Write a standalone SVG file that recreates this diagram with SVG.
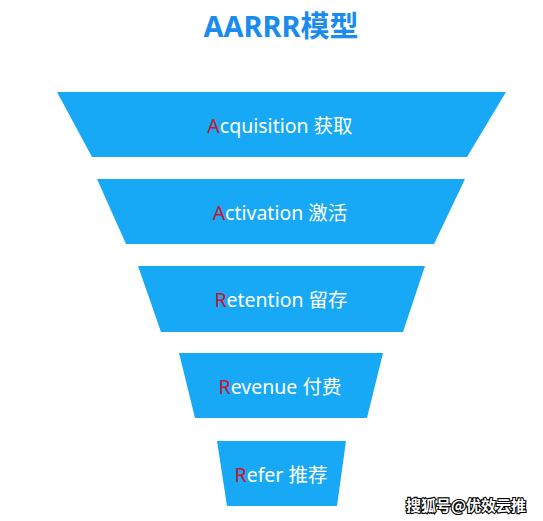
<svg xmlns="http://www.w3.org/2000/svg" width="543" height="521" viewBox="0 0 543 521">
<style>
.stage{fill:#17a9f6}
.lbl{font-family:"Noto Sans","Noto Sans CJK SC",sans-serif;font-size:19.5px;fill:#ffffff;text-anchor:middle}
.red{fill:#c8142c}
.title{font-family:"Noto Sans","Noto Sans CJK SC",sans-serif;font-size:29px;font-weight:bold;fill:#1a8cf0;text-anchor:middle}
.wm{font-family:"Noto Sans CJK SC",sans-serif;font-size:15px;font-weight:bold;fill:#ffffff;stroke:#000000;stroke-width:2.2;paint-order:stroke;text-anchor:middle}
</style>
<rect width="543" height="521" fill="#ffffff"/>
<text class="title" x="281" y="37">AARRR模型</text>
<g id="acquisition">
<polygon class="stage" points="57,92 506,92 467,157 92,157"/>
<text class="lbl" x="280" y="133"><tspan class="red">A</tspan>cquisition 获取</text>
</g>
<g id="activation">
<polygon class="stage" points="97,179 465,179 434,244 126,244"/>
<text class="lbl" x="280" y="220"><tspan class="red">A</tspan>ctivation 激活</text>
</g>
<g id="retention">
<polygon class="stage" points="138,266 425,266 403,332 161,332"/>
<text class="lbl" x="281" y="307"><tspan class="red">R</tspan>etention 留存</text>
</g>
<g id="revenue">
<polygon class="stage" points="179,353 383,353 367,418 195,418"/>
<text class="lbl" x="280" y="394"><tspan class="red">R</tspan>evenue 付费</text>
</g>
<g id="refer">
<polygon class="stage" points="217,441 346,441 337,506 227,506"/>
<text class="lbl" x="281" y="482"><tspan class="red">R</tspan>efer 推荐</text>
</g>
<g id="connectors"></g>
<text class="wm" x="466" y="511">搜狐号@优效云推</text>
</svg>
